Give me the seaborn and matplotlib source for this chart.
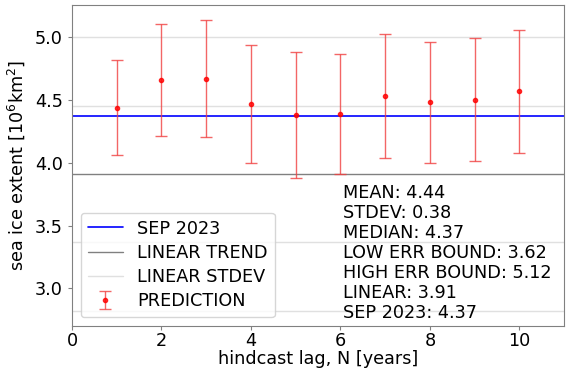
import numpy as np
import matplotlib
matplotlib.use("Agg")
import matplotlib.pyplot as plt
import seaborn as sns

# hindcast predictions
lags = [1, 2, 3, 4, 5, 6, 7, 8, 9, 10]
pred = [4.44, 4.66, 4.67, 4.47, 4.38, 4.39, 4.53, 4.48, 4.50, 4.57]
err = [0.38, 0.445, 0.465, 0.47, 0.50, 0.48, 0.495, 0.485, 0.49, 0.49]

sep2023 = 4.37
linear = 3.91
linear_std = 0.545

stats_text = ["MEAN: 4.44", "STDEV: 0.38", "MEDIAN: 4.37",
              "LOW ERR BOUND: 3.62", "HIGH ERR BOUND: 5.12",
              "LINEAR: 3.91", "SEP 2023: 4.37"]

sns.set_style("white")
plt.rcParams['font.family'] = ['DejaVu Sans']
plt.rcParams['text.color'] = 'black'
plt.rcParams['axes.labelcolor'] = 'black'
plt.rcParams['xtick.color'] = 'black'
plt.rcParams['ytick.color'] = 'black'
fs = 12.7

fig, ax = plt.subplots(figsize=(5.71, 3.70), dpi=100)
fig.subplots_adjust(left=0.126, right=0.988, top=0.986, bottom=0.119)

ax.axhline(sep2023, color='blue', lw=1.2, label='SEP 2023')
ax.axhline(linear, color='gray', lw=1.0, label='LINEAR TREND')
for k, s in enumerate([1, -1, 2, -2]):
    ax.axhline(linear + s * linear_std, color='lightgray', lw=1.0, alpha=0.7,
               label='LINEAR STDEV' if k == 0 else None)

ax.errorbar(lags, pred, yerr=err, fmt='o', color='red', ms=3,
            ecolor='#f04040', elinewidth=1.0, capsize=4.5, alpha=0.8,
            label='PREDICTION')

ax.set_xlim(0, 11)
ax.set_ylim(2.7, 5.255)
ax.set_xticks([0, 2, 4, 6, 8, 10])
ax.set_yticks([3.0, 3.5, 4.0, 4.5, 5.0])
ax.tick_params(labelsize=fs, length=3, color='gray', bottom=True, left=True)
ax.tick_params(axis='x', pad=1.5)
for sp in ax.spines.values():
    sp.set_color('gray')

ax.set_xlabel('hindcast lag, N [years]', fontsize=fs, labelpad=0)
ax.set_ylabel('sea ice extent [$10^6$km$^2$]', fontsize=fs, labelpad=6)

ax.legend(loc='lower left', fontsize=fs, frameon=True, borderaxespad=0.5,
          handlelength=2.0, labelspacing=0.35)

ax.text(0.551, 0.012, "\n".join(stats_text), transform=ax.transAxes,
        fontsize=fs, va='bottom', ha='left', linespacing=1.14)

fig.savefig('out.png', dpi=100)
